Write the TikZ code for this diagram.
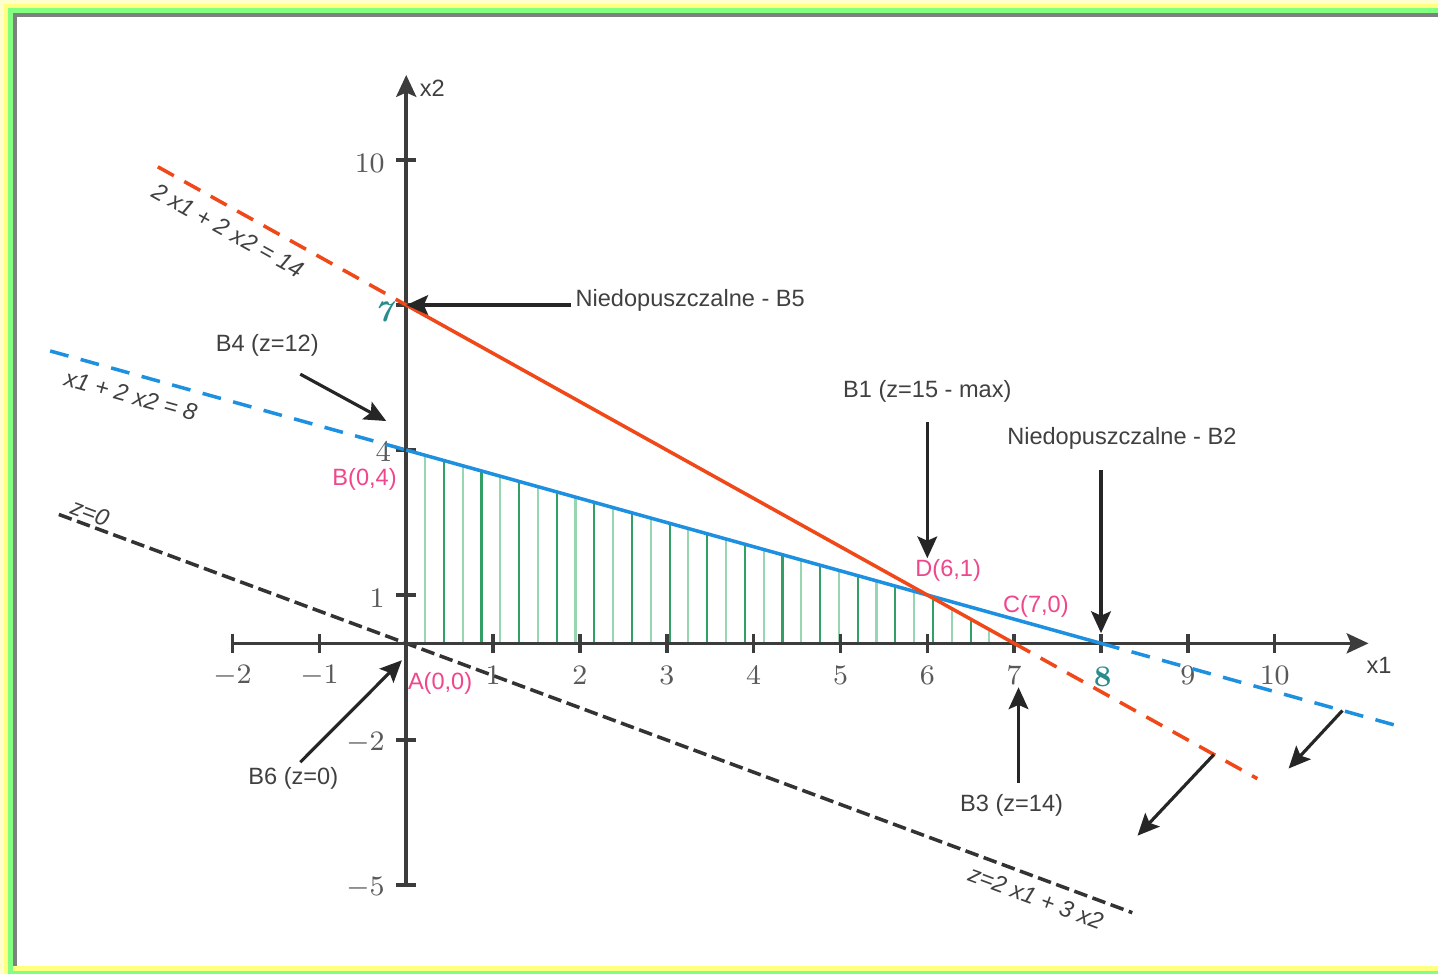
\documentclass[tikz,border=0pt]{standalone}
\usepackage{fontspec}
\usepackage{tikz}
\usetikzlibrary{arrows.meta,positioning,calc}
\newfontfamily\labelfont{Liberation Sans}
\definecolor{ogrA}{RGB}{240,72,24}
\definecolor{ogrB}{RGB}{30,144,224}
\definecolor{punkt}{RGB}{240,70,140}
\definecolor{turkus}{RGB}{40,140,140}
\definecolor{hatchL}{RGB}{150,214,176}
\definecolor{hatchD}{RGB}{50,160,100}
\definecolor{osie}{RGB}{60,60,60}
\definecolor{ramkaA}{RGB}{255,255,204}
\definecolor{ramkaB}{RGB}{255,255,128}
\definecolor{ramkaC}{RGB}{128,255,128}
\definecolor{ramkaD}{RGB}{128,128,128}

\begin{document}
\begin{tikzpicture}[x=0.868cm, y=0.483cm,
    arr/.style={-{Stealth[length=6.2pt,width=5.6pt,inset=1.2pt]}, line width=0.9pt, black!85},
    axis/.style={line width=1pt, osie},
    txt/.style={font=\labelfont\fontsize{6.7}{8}\selectfont, text=black!75, inner sep=1pt},
    pt/.style={font=\labelfont\fontsize{6.7}{8}\selectfont, text=punkt, inner sep=1pt},
    eq/.style={font=\labelfont\itshape\fontsize{6.7}{8}\selectfont, text=black!75, inner sep=1pt},
    num/.style={font=\fontsize{8.5}{9}\selectfont, text=black!65, inner sep=1pt},
    red dash/.style={ogrA, line width=1pt, dash pattern=on 5.2pt off 3.4pt},
    blue dash/.style={ogrB, line width=1pt, dash pattern=on 5.4pt off 3.6pt}]

  % frame
  \begin{scope}[shift={(-4.06cm,6.43cm)}, x=0.01cm, y=-0.01cm]
    \fill[ramkaA] (0,0) rectangle (1438,974);
    \fill[ramkaB] (4,4) rectangle (1438,974);
    \fill[ramkaC] (8,8) rectangle (1438,974);
    \fill[ramkaB] (13,966) rectangle (1438,971);
    \fill[ramkaD] (13,13) rectangle (1438,966);
    \fill[white] (17,17) rectangle (1438,966);
    \useasboundingbox (0,0) rectangle (1438,974);
  \end{scope}

  % points
  \coordinate (A) at (0,0);
  \coordinate (B) at (0,4);
  \coordinate (C) at (7,0);
  \coordinate (D) at (6,1);
  \coordinate (P7) at (0,7);
  \coordinate (P8) at (8,0);
  \coordinate (r1) at (-2.86,9.86);
  \coordinate (r2) at (9.8,-2.8);
  \coordinate (b1) at (-4.1,6.05);
  \coordinate (b2) at (11.5,-1.75);
  \coordinate (z1) at (-4,2.667);
  \coordinate (z2) at (8.36,-5.573);

  % feasible region
  \foreach \k in {1,3,...,31}{
    \pgfmathsetmacro\hx{\k*0.2166}
    \pgfmathsetmacro\hy{min(4-\hx/2,7-\hx)}
    \draw[hatchL, line width=0.6pt] (\hx,0) -- (\hx,\hy);
  }
  \foreach \k in {2,4,...,30}{
    \pgfmathsetmacro\hx{\k*0.2166}
    \pgfmathsetmacro\hy{min(4-\hx/2,7-\hx)}
    \draw[hatchD, line width=0.6pt] (\hx,0) -- (\hx,\hy);
  }

  % z line
  \draw[black!80, line width=1pt, dash pattern=on 3.9pt off 1.6pt] (z1) -- (z2);

  % axes
  \foreach \t in {-2,-1,1,2,3,4,5,6,7,8,9,10}
    \draw[axis] (\t,-0.2) -- (\t,0.2);
  \foreach \t in {-5,-2,1,4,7,10}
    \draw[axis] (-0.115,\t) -- (0.115,\t);
  \draw[axis, -{Stealth[length=6.2pt,width=5.7pt,inset=1.2pt]}] (-2,0) -- (11.08,0);
  \draw[axis, -{Stealth[length=6.2pt,width=5.7pt,inset=1.2pt]}] (0,-5) -- (0,11.76);
  \node[txt] (x1lab) at (11.2,-0.46) {x1};
  \node[txt] (x2lab) at (0.30,11.49) {x2};

  \foreach \t in {-2,-1,1,2,3,4,5,6,7,9,10}
    \node[num] (xl\t) at (\t,-0.67) {$\t$};
  \node[num, text=turkus] (xl8) at (8.02,-0.69) {\bfseries 8};
  \foreach \t in {-5,-2,1,10}
    \node[num, anchor=east] (yl\t) at (-0.2,\t-0.07) {$\t$};
  \node[num] (yl4) at (-0.265,3.97) {4};
  \node[num, text=turkus] (yl7) at (-0.265,6.85) {\bfseries\itshape 7};

  % constraints
  \draw[blue dash] (b1) -- (B);
  \draw[ogrB, line width=1pt] (B) -- (P8);
  \draw[blue dash] (P8) -- (b2);
  \draw[red dash] (r1) -- (P7);
  \draw[ogrA, line width=1pt] (P7) -- (C);
  \draw[red dash] (C) -- (r2);

  \node[eq, rotate=-29.1] (eqR) at (-2.05,8.55) {2 x1 + 2 x2 = 14};
  \node[eq, rotate=-15.5] (eqB) at (-3.17,5.13) {x1 + 2 x2 = 8};
  \node[eq, rotate=-20.4] (eqZ0) at (-3.64,2.71) {z=0};
  \node[eq, rotate=-20.4] (eqZ) at (7.25,-5.26) {z=2 x1 + 3 x2};

  \node[pt] (Alab) at (0.39,-0.83) {A(0,0)};
  \node[pt] (Blab) at (-0.48,3.40) {B(0,4)};
  \node[pt] (Clab) at (7.25,0.77) {C(7,0)};
  \node[pt] (Dlab) at (6.24,1.51) {D(6,1)};

  % annotations
  \node[txt] (nB5) at (3.27,7.1) {Niedopuszczalne - B5};
  \draw[arr] (nB5.west |- P7) -- (P7);

  \node[txt] (nB4) at (-1.60,6.17) {B4 (z=12)};
  \coordinate (B4tail) at (-1.22,5.57);
  \coordinate (B4tip) at (-0.23,4.60);
  \draw[arr] (B4tail) -- (B4tip);

  \node[txt] (nB1) at (6.0,5.22) {B1 (z=15 - max)};
  \coordinate (B1tail) at (6,4.58);
  \coordinate (B1tip) at (6,1.76);
  \draw[arr] (B1tail) -- (B1tip);

  \node[txt] (nB2) at (8.24,4.24) {Niedopuszczalne - B2};
  \coordinate (B2tail) at (8,3.58);
  \coordinate (B2tip) at (8,0.21);
  \draw[arr] (B2tail) -- (B2tip);

  \node[txt] (nB3) at (6.97,-3.35) {B3 (z=14)};
  \coordinate (B3tail) at (7.05,-2.88);
  \coordinate (B3tip) at (7.05,-0.91);
  \draw[arr] (B3tail) -- (B3tip);

  \node[txt] (nB6) at (-1.30,-2.80) {B6 (z=0)};
  \coordinate (B6tail) at (-1.22,-2.46);
  \coordinate (B6tip) at (-0.05,-0.35);
  \draw[arr] (B6tail) -- (B6tip);

  % half-plane directions
  \coordinate (kR1) at (9.30,-2.30);
  \coordinate (kR2) at (8.42,-3.98);
  \coordinate (kB1) at (10.78,-1.39);
  \coordinate (kB2) at (10.16,-2.59);
  \draw[arr] (kR1) -- (kR2);
  \draw[arr] (kB1) -- (kB2);
\end{tikzpicture}
\end{document}
